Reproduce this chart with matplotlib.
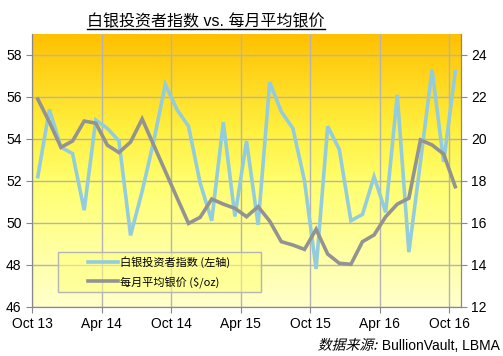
import matplotlib
matplotlib.use("Agg")
import matplotlib.pyplot as plt
import numpy as np
from matplotlib.colors import LinearSegmentedColormap
from matplotlib.lines import Line2D
from matplotlib.patches import Rectangle, PathPatch
from matplotlib.textpath import TextPath
from matplotlib.font_manager import FontProperties
from matplotlib.transforms import ScaledTranslation, Affine2D, IdentityTransform

plt.rcParams['font.family'] = ['Liberation Sans', 'Noto Sans CJK SC', 'DejaVu Sans']

# monthly data, Oct 2013 .. Oct 2016
investor_index = [52.2, 55.4, 53.6, 53.3, 50.6, 54.9, 54.5, 53.9, 49.4, 51.5,
                  53.9, 56.6, 55.4, 54.6, 51.9, 50.1, 54.8, 50.3, 53.9, 49.9,
                  56.7, 55.3, 54.5, 52.0, 47.8, 54.6, 53.5, 50.1, 50.4, 52.2,
                  50.5, 56.1, 48.6, 52.9, 57.3, 52.9, 57.2]
silver_price = [21.9, 20.8, 19.6, 19.9, 20.85, 20.75, 19.7, 19.35, 19.85, 20.95,
                19.7, 18.45, 17.2, 15.97, 16.26, 17.13, 16.89, 16.69, 16.29, 16.77,
                16.08, 15.1, 14.94, 14.73, 15.69, 14.51, 14.07, 14.02, 15.1, 15.42,
                16.29, 16.89, 17.17, 19.95, 19.71, 19.28, 17.72]
tick_labels = ['Oct 13', 'Apr 14', 'Oct 14', 'Apr 15', 'Oct 15', 'Apr 16', 'Oct 16']

months = np.arange(len(investor_index)) + 0.5

fig = plt.figure(figsize=(5.03, 3.56), dpi=100)
ax = fig.add_axes([0.0636, 0.1385, 0.853, 0.766])
ax2 = ax.twinx()

# background gradient orange -> yellow -> pale
cmap = LinearSegmentedColormap.from_list('bg', [(0, '#FFFFCC'), (0.45, '#FFFF70'),
                                                (0.65, '#FFF040'), (1, '#FFC000')])
grad = np.linspace(0, 1, 256).reshape(-1, 1)
ax.imshow(grad, cmap=cmap, aspect='auto', origin='lower',
          extent=[0, 37, 46, 59], zorder=0)

grid_c = '#B4B4B4'
for v in range(0, 37, 6):
    ax.axvline(v, color=grid_c, lw=1, zorder=1)
for v in range(46, 59, 2):
    ax.axhline(v, color=grid_c, lw=1, zorder=1)

l1, = ax.plot(months, investor_index, color='#93CDDD', lw=2.6, zorder=3,
              solid_joinstyle='miter')
l2, = ax2.plot(months, silver_price, color='#939393', lw=2.6, zorder=3,
               solid_joinstyle='miter')

ax.set_xlim(0, 37)
ax.set_ylim(46, 59)
ax2.set_ylim(12, 25)
ax.set_yticks(range(46, 59, 2))
ax2.set_yticks(range(12, 25, 2))
ax.set_xticks(range(0, 37, 6))
ax.set_xticklabels(tick_labels)
shift = ScaledTranslation(0.065, 0, fig.dpi_scale_trans)
for lab in ax.get_xticklabels():
    lab.set_transform(lab.get_transform() + shift)

for a in (ax, ax2):
    for s in a.spines.values():
        s.set_color('#888888')
    a.tick_params(colors='#888888', labelcolor='black', labelsize=10, length=4)
ax.spines['top'].set_visible(False)
ax2.spines['top'].set_visible(False)
ax2.patch.set_visible(False)

# legend box + entries
ax.add_patch(Rectangle((0.0606, 0.054), 0.4734, 0.1466, transform=ax.transAxes,
                       facecolor='#FFFF80', alpha=0.55, edgecolor='none', zorder=4))
ax.add_patch(Rectangle((0.0606, 0.054), 0.4734, 0.1466, transform=ax.transAxes,
                       facecolor='none', edgecolor='#B4B4B4', lw=1, zorder=4))
leg = ax.legend([l1, l2], ['白银投资者指数 (左轴)', r'每月平均银价 (\$/oz)'],
                loc='center left', bbox_to_anchor=(0.117, 0.127), frameon=False,
                handlelength=2.7, borderpad=0, labelspacing=0.65,
                handletextpad=0.2,
                prop={'family': ['Noto Sans CJK SC'], 'size': 8})
leg.set_zorder(5)

title = fig.text(0.41, 0.9256, '白银投资者指数 vs. 每月平均银价', ha='center',
                 va='baseline', fontsize=11.5,
                 family=['Liberation Sans', 'Noto Sans CJK SC'])

src = fig.text(0.994, 0.018, ' BullionVault, LBMA', ha='right', va='baseline',
               fontsize=10, family=['Liberation Sans'])
fig.canvas.draw()
bb = title.get_window_extent().transformed(fig.transFigure.inverted())
fig.add_artist(Line2D([bb.x0, bb.x1], [0.919, 0.919], color='black', lw=1))

# italic CJK prefix of the source note
sb = src.get_window_extent()
tp = TextPath((0, 0), '数据来源:', size=10 * 100 / 72,
              prop=FontProperties(family='Noto Sans CJK SC'))
w = tp.get_extents().x1
ybase = 0.018 * fig.bbox.height
tr = Affine2D().skew_deg(14, 0).translate(sb.x0 - w - 2, ybase)
fig.add_artist(PathPatch(tr.transform_path(tp), transform=IdentityTransform(),
                         facecolor='black', edgecolor='none'))

fig.savefig('out.png', dpi=100)
